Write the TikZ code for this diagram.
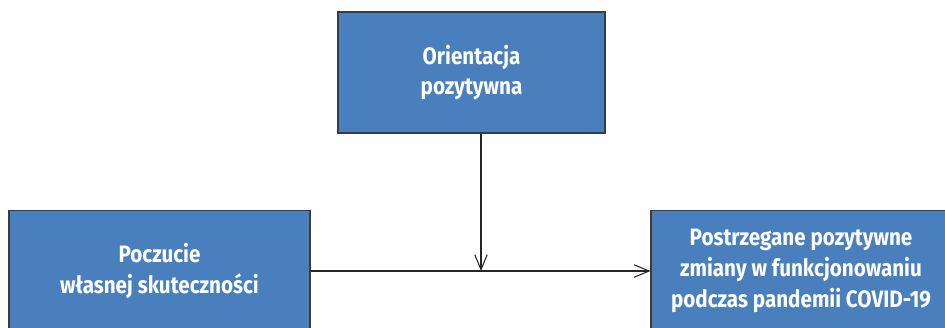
\documentclass[tikz,border=0pt]{standalone}
\usepackage{fontspec}
\setmainfont[FakeStretch=0.87]{Fira Sans}
\usetikzlibrary{arrows.meta}
\definecolor{boxblue}{HTML}{4A7FBD}
\definecolor{boxline}{HTML}{3C3C3C}

\begin{document}
\begin{tikzpicture}[
    factor/.style={draw=boxline,line width=0.6pt,fill=boxblue,text=white,
      font=\bfseries\fontsize{13.5}{17.6}\selectfont,align=center,
      minimum height=2.42cm,inner sep=0pt},
    link/.style={line width=0.6pt,draw=black!85,
      -{Straight Barb[length=0.3cm,width=0.25cm]}}]
    \useasboundingbox (0,0) rectangle (18.9,6.54);
    \node[factor,minimum width=5.34cm] (orient) at (9.43,5.09) {Orientacja\\pozytywna};
    \node[factor,minimum width=6.02cm] (efficacy) at (3.19,1.12) {Poczucie\\własnej skuteczności};
    \node[factor,minimum width=6.0cm] (change) at (16.02,1.12) {Postrzegane pozytywne\\zmiany w funkcjonowaniu\\podczas pandemii COVID-19};
    \coordinate (meet) at (9.62,1.12);
    \draw[link] (efficacy.east) -- (change.west);
    \draw[link] (orient.south -| meet) -- (meet);
\end{tikzpicture}
\end{document}
